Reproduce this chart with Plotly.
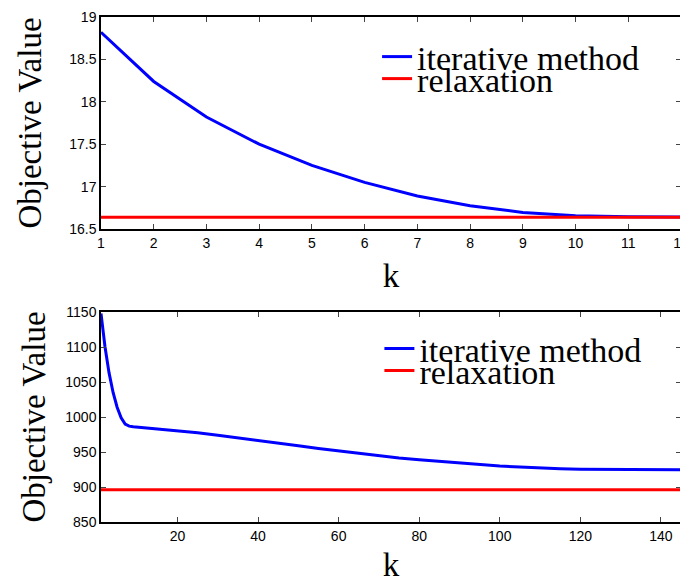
import plotly.graph_objects as go

# Top panel data
k_top = [1, 2, 3, 4, 5, 6, 7, 8, 9, 10, 11, 12]
iter_top = [18.82, 18.24, 17.82, 17.50, 17.25, 17.05, 16.89, 16.775, 16.695, 16.655, 16.645, 16.64]
relax_top = 16.64

# Bottom panel data
k_bot = [1, 2, 3, 4, 5, 6, 7, 8, 9, 10, 12, 15, 20, 25, 30, 35, 40, 45, 50, 55, 60, 65, 70, 75, 80,
         85, 90, 95, 100, 105, 110, 115, 120, 125, 130, 135, 140, 145]
iter_bot = [1148, 1100, 1063, 1035, 1014, 999, 990, 987, 986, 985.5, 984.5, 983, 980.5, 977.5, 974,
            970.5, 967, 963, 959, 955, 951.5, 948, 944.5, 941.5, 939, 936.5, 934, 932, 930, 928.5,
            927, 926, 925.3, 925, 924.8, 924.7, 924.6, 924.6]
relax_bot = 896

blue = "#0000ff"
red = "#ff0000"
serif = "Liberation Serif"
sans = "Liberation Sans"

fig = go.Figure()

fig.add_trace(go.Scatter(x=k_top, y=iter_top, mode="lines", name="iterative method",
                         line=dict(color=blue, width=3), xaxis="x", yaxis="y", legend="legend"))
fig.add_trace(go.Scatter(x=[k_top[0], k_top[-1]], y=[relax_top, relax_top], mode="lines", name="relaxation",
                         line=dict(color=red, width=3), xaxis="x", yaxis="y", legend="legend2"))
fig.add_trace(go.Scatter(x=k_bot, y=iter_bot, mode="lines", name="iterative method",
                         line=dict(color=blue, width=3), xaxis="x2", yaxis="y2", legend="legend3"))
fig.add_trace(go.Scatter(x=[k_bot[0], k_bot[-1]], y=[relax_bot, relax_bot], mode="lines", name="relaxation",
                         line=dict(color=red, width=3), xaxis="x2", yaxis="y2", legend="legend4"))

axis_common = dict(showline=True, linecolor="black", linewidth=1.5, mirror="ticks",
                   ticks="inside", ticklen=5, tickwidth=1, tickcolor="#444",
                   showgrid=False, zeroline=False, automargin=False,
                   ticklabeloverflow="allow",
                   tickfont=dict(family=sans, size=14, color="black"))

title_font = dict(family=serif, size=33, color="black")

# the page body adds an 8px offset, so the figure is sized 680x575
fig.update_layout(
    width=680, height=575,
    margin=dict(l=93, r=7, t=9, b=61),
    paper_bgcolor="white", plot_bgcolor="white",
    xaxis=dict(domain=[0, 1], range=[1, 12], dtick=1, anchor="y",
               title=dict(text="k", font=title_font, standoff=14), **axis_common),
    yaxis=dict(domain=[0.5802, 1], range=[16.5, 19], dtick=0.5, anchor="x",
               title=dict(text="Objective Value", font=title_font, standoff=18), **axis_common),
    xaxis2=dict(domain=[0, 1], range=[1, 145], tick0=0, dtick=20, anchor="y2",
                title=dict(text="k", font=title_font, standoff=14), **axis_common),
    yaxis2=dict(domain=[0, 0.4158], range=[850, 1150], dtick=50, anchor="x2",
                title=dict(text="Objective Value", font=title_font, standoff=10), **axis_common),
    showlegend=True,
)

leg_common = dict(bgcolor="rgba(0,0,0,0)", font=dict(family=serif, size=34, color="black"),
                  xanchor="left", yanchor="middle", itemwidth=30, tracegroupgap=0)
# legend positions in paper coords (plot area height 505, top at page y=17)
fig.update_layout(
    legend=dict(x=0.476, y=1 - (57 - 17) / 505, **leg_common),
    legend2=dict(x=0.476, y=1 - (79 - 17) / 505, **leg_common),
    legend3=dict(x=0.480, y=1 - (349 - 17) / 505, **leg_common),
    legend4=dict(x=0.480, y=1 - (371 - 17) / 505, **leg_common),
)

fig.write_html("out.html")
